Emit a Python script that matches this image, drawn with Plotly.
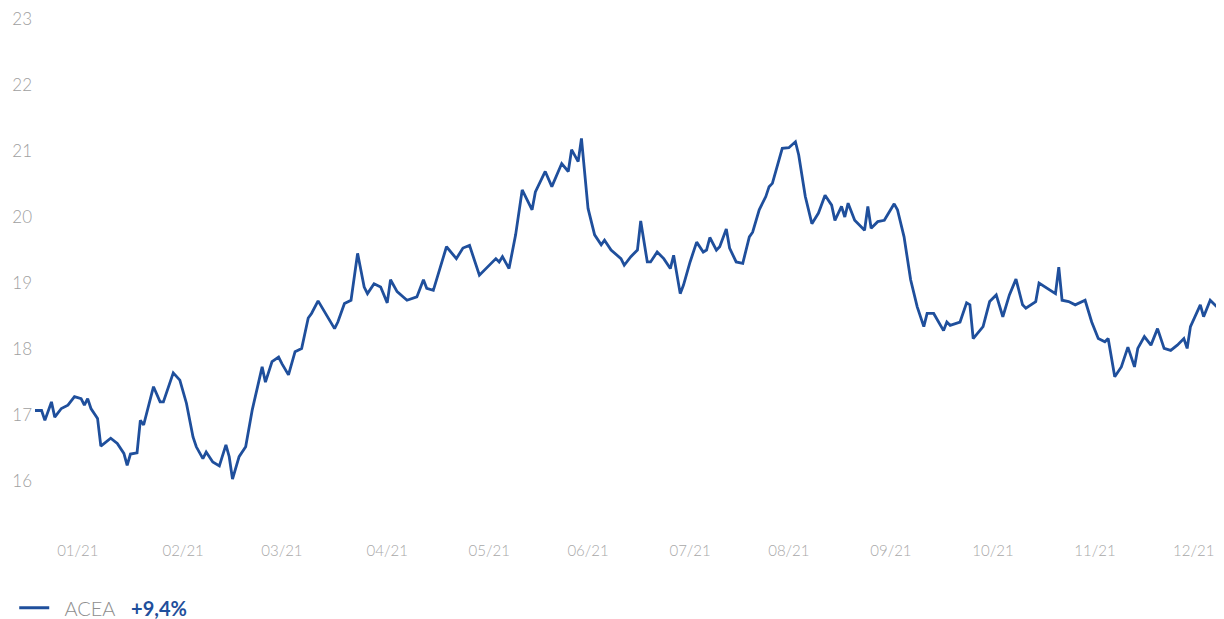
import pandas as pd
import plotly.graph_objects as go

# day of year (2021) of each sampled point
day_of_year = [
    4, 6, 7, 9, 10, 12, 14, 16, 18, 19, 20, 21, 23, 24, 27, 29, 31, 32, 33, 35,
    36, 37, 40, 42, 43, 46, 48, 50, 52, 53, 55, 56, 58, 60, 62, 63, 64, 66, 68, 70,
    73, 74, 76, 78, 79, 81, 83, 85, 87, 88, 90, 92, 95, 96, 98, 100, 102, 104, 105, 107,
    109, 111, 112, 114, 117, 120, 122, 123, 125, 129, 132, 134, 136, 139, 142, 144, 145, 146, 148, 150,
    152, 153, 155, 156, 159, 161, 164, 166, 167, 169, 170, 172, 174, 176, 177, 179, 182, 183, 185, 187,
    188, 190, 191, 193, 195, 197, 198, 200, 201, 203, 205, 207, 208, 209, 211, 212, 214, 215, 217, 219,
    221, 222, 224, 226, 227, 228, 231, 233, 235, 236, 238, 240, 242, 244, 246, 247, 249, 250, 251, 253,
    256, 257, 258, 260, 262, 265, 266, 268, 270, 272, 274, 275, 277, 280, 281, 282, 285, 287, 288, 289,
    292, 294, 296, 298, 300, 302, 304, 305, 308, 309, 311, 314, 315, 316, 318, 320, 323, 325, 327, 329,
    330, 332, 334, 336, 338, 339, 341, 343, 345, 347, 349, 351, 353, 354, 355, 358, 359, 361, 363,
]

acea_price = [
    17.07, 17.07, 16.92, 17.20, 16.97, 17.10, 17.15, 17.28, 17.25, 17.15, 17.25, 17.10, 16.95, 16.53, 16.65, 16.57, 16.42, 16.24, 16.41, 16.43,
    16.92, 16.85, 17.43, 17.20, 17.20, 17.64, 17.53, 17.18, 16.67, 16.52, 16.34, 16.44, 16.29, 16.23, 16.55, 16.37, 16.03, 16.37, 16.52, 17.08,
    17.73, 17.50, 17.81, 17.88, 17.78, 17.61, 17.96, 18.01, 18.47, 18.54, 18.73, 18.57, 18.31, 18.41, 18.69, 18.74, 19.45, 18.94, 18.84, 18.99,
    18.94, 18.70, 19.05, 18.87, 18.74, 18.79, 19.05, 18.92, 18.89, 19.55, 19.37, 19.53, 19.57, 19.12, 19.27, 19.37, 19.32, 19.40, 19.22, 19.73,
    20.41, 20.31, 20.11, 20.38, 20.69, 20.46, 20.81, 20.69, 21.02, 20.84, 21.19, 20.13, 19.73, 19.58, 19.65, 19.50, 19.37, 19.27, 19.40, 19.50,
    19.94, 19.32, 19.32, 19.47, 19.37, 19.22, 19.42, 18.84, 18.97, 19.32, 19.62, 19.47, 19.50, 19.69, 19.50, 19.55, 19.82, 19.53, 19.32, 19.30,
    19.70, 19.77, 20.11, 20.31, 20.46, 20.51, 21.04, 21.05, 21.14, 20.94, 20.31, 19.90, 20.06, 20.33, 20.18, 19.95, 20.16, 20.00, 20.21, 19.95,
    19.80, 20.16, 19.83, 19.93, 19.95, 20.20, 20.11, 19.70, 19.05, 18.64, 18.34, 18.54, 18.54, 18.28, 18.41, 18.36, 18.41, 18.70, 18.67, 18.16,
    18.34, 18.72, 18.82, 18.49, 18.82, 19.06, 18.67, 18.62, 18.72, 19.00, 18.94, 18.84, 19.24, 18.74, 18.72, 18.67, 18.74, 18.41, 18.16, 18.11,
    18.16, 17.58, 17.73, 18.03, 17.73, 18.01, 18.19, 18.06, 18.31, 18.01, 17.98, 18.06, 18.16, 18.01, 18.34, 18.67, 18.49, 18.74, 18.64,
]

tick_day_of_year = [17, 49, 79, 111, 142, 172, 203, 233, 264, 295, 326, 356]
tick_labels = ["01/21", "02/21", "03/21", "04/21", "05/21", "06/21",
               "07/21", "08/21", "09/21", "10/21", "11/21", "12/21"]
y_ticks = [16, 17, 18, 19, 20, 21, 22, 23]
series_name = "ACEA"
performance = "+9,4%"

base = pd.Timestamp("2021-01-01")
dates = [base + pd.Timedelta(days=d - 1) for d in day_of_year]
tick_dates = [base + pd.Timedelta(days=d - 1) for d in tick_day_of_year]

LINE = "#1f4f9c"

fig = go.Figure()
fig.add_trace(go.Scatter(
    x=dates, y=acea_price, mode="lines",
    line=dict(color=LINE, width=2.8),
    name=(f"&nbsp;&nbsp;<span style='color:#8e8e8e'>{series_name}</span>&nbsp;&nbsp;&nbsp;"
          f"<b><span style='color:{LINE}'>{performance}</span></b>"),
    showlegend=True,
))

# page body has an 8px margin: figure is sized/offset to compensate
fig.update_layout(
    width=1216, height=611,
    margin=dict(l=27, r=2, t=7, b=89, autoexpand=False),
    paper_bgcolor="white", plot_bgcolor="white",
    font=dict(family="Lato, Open Sans, sans-serif", color="#9a9a9a", size=14),
    xaxis=dict(
        range=[pd.Timestamp("2021-01-04"), pd.Timestamp("2021-12-30 14:00")],
        tickvals=tick_dates, ticktext=tick_labels,
        showgrid=False, zeroline=False, showline=False,
        ticks="", ticklabelstandoff=10, automargin=False,
        tickfont=dict(size=15, color="#a8a8a8", weight=300),
    ),
    yaxis=dict(
        range=[15.26, 23.06],
        tickvals=y_ticks,
        showgrid=False, zeroline=False, showline=False,
        ticks="", ticklabelstandoff=2, automargin=False,
        ticklabeloverflow="allow",
        tickfont=dict(size=17, color="#a0a0a0", weight=300),
    ),
    legend=dict(
        orientation="h", x=-0.0175, xanchor="left", y=-0.151, yanchor="middle",
        font=dict(size=20, color="#8e8e8e", weight=300), bgcolor="rgba(0,0,0,0)",
        itemwidth=30,
    ),
)

fig.write_html("out.html")
